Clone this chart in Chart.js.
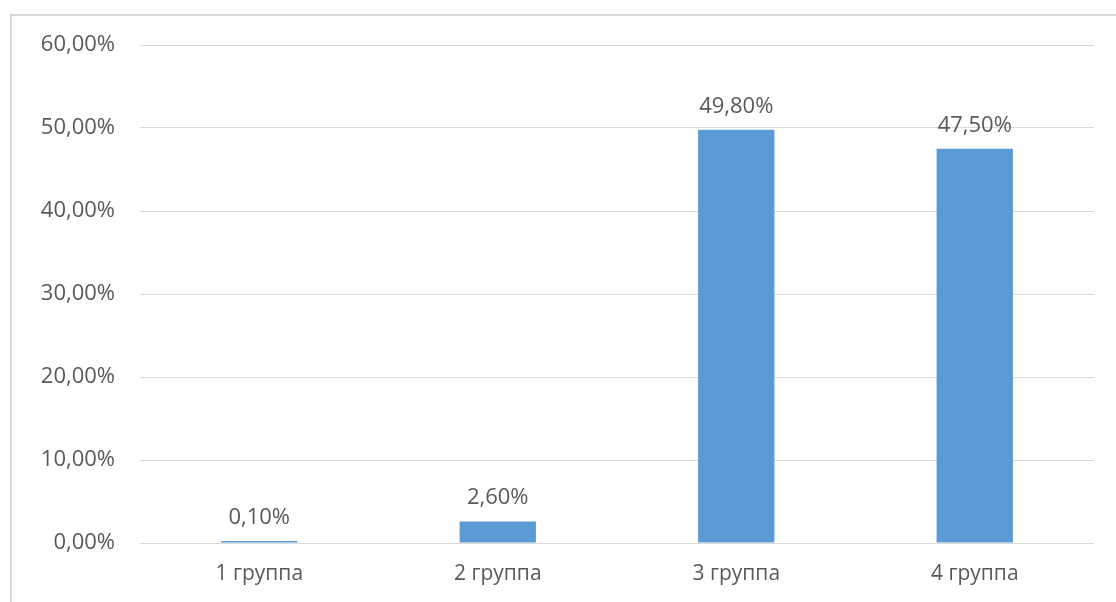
<!DOCTYPE html>
<html>
<head>
<meta charset="utf-8">
<script src="https://cdn.jsdelivr.net/npm/chart.js@4/dist/chart.umd.min.js"></script>
<style>
    html, body { margin: 0; padding: 0; background: #fff; }
    #wrap { position: relative; width: 1116px; height: 602px; overflow: hidden; }
    #frame { position: absolute; left: 10px; top: 14px; width: 1200px; height: 700px;
             border-left: 2px solid #d9d9d9; border-top: 2px solid #d9d9d9; }
    canvas { position: absolute; left: 0; top: 0; }
</style>
</head>
<body>
<div id="wrap">
    <div id="frame"></div>
    <canvas id="groupChart" width="1116" height="602"></canvas>
</div>
<script>
// data
const groups = ['1 группа', '2 группа', '3 группа', '4 группа'];
const shares = [0.1, 2.6, 49.8, 47.5];
const yMax = 60;
const yStep = 10;

const textColor = '#595959';
const fontFamily = '"Open Sans", "Noto Sans", sans-serif';

function pct(v) {
    return v.toFixed(2).replace('.', ',') + '%';
}

// labels above each bar
const valueLabels = {
    id: 'valueLabels',
    afterDatasetsDraw(chart) {
        const ctx = chart.ctx;
        const meta = chart.getDatasetMeta(0);
        ctx.save();
        ctx.font = '22px ' + fontFamily;
        ctx.fillStyle = textColor;
        ctx.textAlign = 'center';
        ctx.textBaseline = 'alphabetic';
        meta.data.forEach((bar, i) => {
            ctx.fillText(pct(shares[i]), bar.x, bar.y - 17);
        });
        ctx.restore();
    }
};

const ctx = document.getElementById('groupChart').getContext('2d');
new Chart(ctx, {
    type: 'bar',
    data: {
        labels: groups,
        datasets: [{
            data: shares,
            backgroundColor: '#5b9bd5',
            borderColor: '#5b9bd5',
            borderWidth: 0,
            minBarLength: 2,
            barPercentage: 0.32,
            categoryPercentage: 1,
        }],
    },
    options: {
        responsive: false,
        animation: false,
        layout: { padding: { left: 0, right: 22, top: 45, bottom: 0 } },
        plugins: {
            legend: { display: false },
            tooltip: { enabled: false },
        },
        scales: {
            x: {
                grid: { display: false, drawTicks: false },
                border: { display: false },
                ticks: { color: textColor, font: { family: fontFamily, size: 21 }, padding: 18 },
                afterFit: (scale) => { scale.height = 59; },
            },
            y: {
                min: 0,
                max: yMax,
                grid: { color: '#d9d9d9', lineWidth: 1, drawTicks: false },
                border: { display: false },
                ticks: {
                    stepSize: yStep,
                    color: textColor,
                    font: { family: fontFamily, size: 22 },
                    padding: 25,
                    callback: (v) => pct(v),
                },
                afterFit: (scale) => { scale.width = 140; },
            },
        },
    },
    plugins: [valueLabels],
});
</script>
</body>
</html>
